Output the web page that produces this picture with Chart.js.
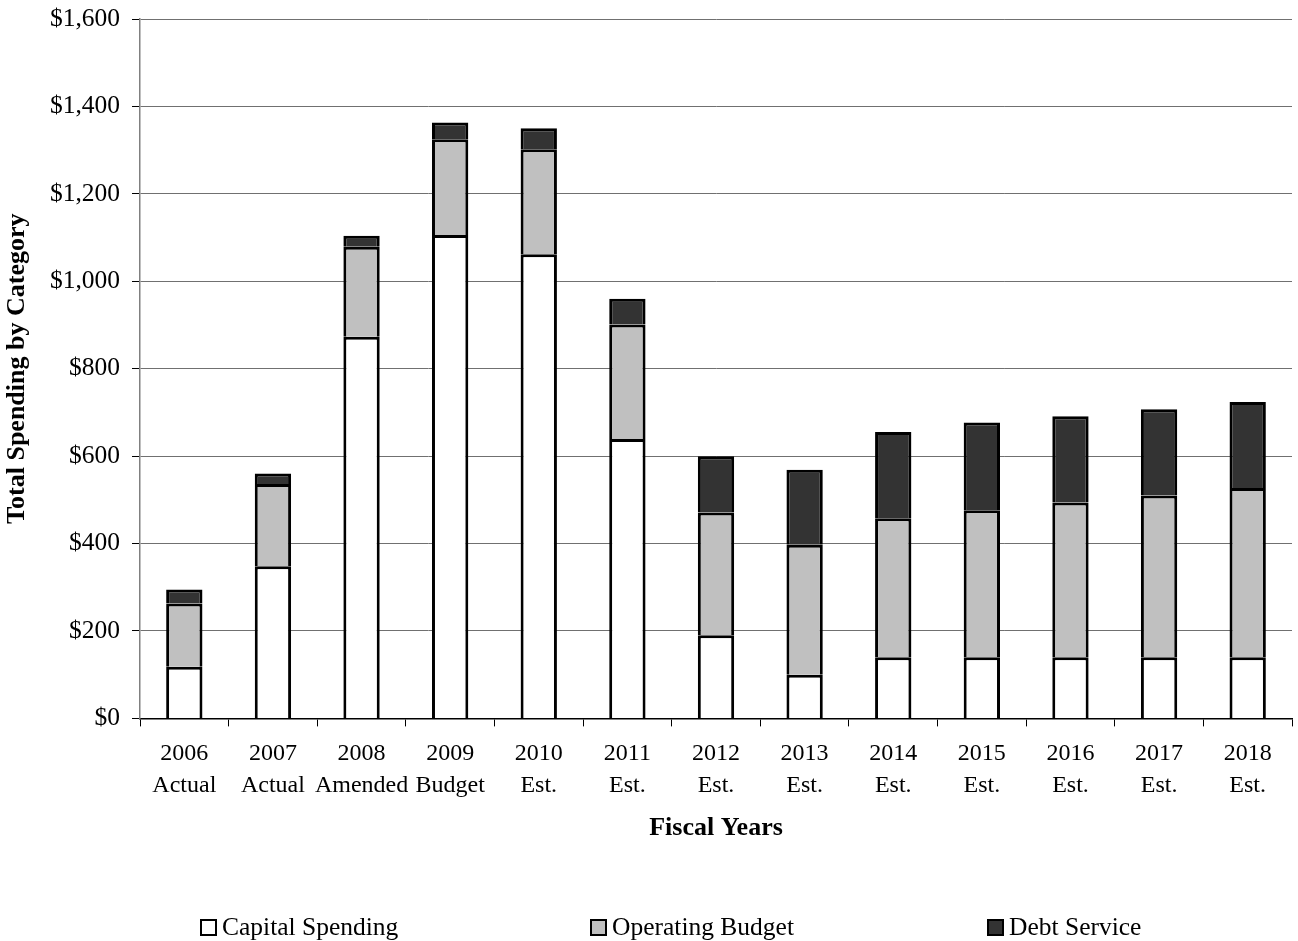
<!DOCTYPE html>
<html>
<head>
<meta charset="utf-8">
<script src="https://cdn.jsdelivr.net/npm/chart.js@4/dist/chart.umd.min.js"></script>
<style>
  html, body { margin: 0; padding: 0; background: #fff; }
  #wrap { position: relative; width: 1298px; height: 941px; }
  #spendingChart { position: absolute; left: 0; top: 0; }
  .legend-item {
    position: absolute; top: 912px; height: 30px;
    display: flex; align-items: center;
    font-family: "Liberation Serif", "Times New Roman", serif; font-size: 25.5px; color: #000;
  }
  .legend-item span.box {
    width: 13px; height: 13px; border: 2px solid #000; margin-right: 5px; box-sizing: content-box;
  }
</style>
</head>
<body>
<div id="wrap">
  <canvas id="spendingChart" width="1298" height="941"></canvas>
  <div id="legend"></div>
</div>
<script>
// Fiscal years (two-line labels)
const years = ['2006', '2007', '2008', '2009', '2010', '2011', '2012', '2013', '2014', '2015', '2016', '2017', '2018'];
const yearNotes = ['Actual', 'Actual', 'Amended', 'Budget', 'Est.', 'Est.', 'Est.', 'Est.', 'Est.', 'Est.', 'Est.', 'Est.', 'Est.'];

// Spending by category
const capitalSpending = [118, 348, 873, 1106, 1062, 639, 190, 100, 140, 140, 140, 140, 140];
const operatingBudget = [145, 188, 206, 219, 240, 262, 281, 297, 318, 336, 354, 370, 387];
const debtService = [32, 24, 25, 38, 48, 59, 129, 172, 197, 201, 197, 197, 197];

// Y axis range
const yMin = 0;
const yMax = 1600;
const yStep = 200;

const serif = '"Liberation Serif", "Times New Roman", serif';
const labels = years.map((y, i) => [y, yearNotes[i]]);

const datasets = [
  { label: 'Capital Spending', data: capitalSpending, backgroundColor: '#ffffff' },
  { label: 'Operating Budget', data: operatingBudget, backgroundColor: '#c0c0c0' },
  { label: 'Debt Service', data: debtService, backgroundColor: '#333333' }
].map(ds => Object.assign(ds, {
  borderColor: '#000000',
  borderWidth: 3,
  borderSkipped: 'start',
  barPercentage: 0.41,
  categoryPercentage: 1.0
}));

const ctx = document.getElementById('spendingChart').getContext('2d');
const chart = new Chart(ctx, {
  type: 'bar',
  data: { labels: labels, datasets: datasets },
  options: {
    responsive: false,
    animation: false,
    layout: { padding: { left: 2, right: 6, top: 19, bottom: 97 } },
    plugins: {
      legend: { display: false },
      tooltip: { enabled: false }
    },
    scales: {
      x: {
        stacked: true,
        grid: {
          display: true,
          drawOnChartArea: false,
          offset: true,
          tickLength: 8,
          color: '#000000',
          lineWidth: 1
        },
        border: { display: true, color: '#000000', width: 1.5 },
        ticks: {
          color: '#000000',
          padding: 11,
          font: { family: serif, size: 24, lineHeight: 1.333 },
          maxRotation: 0,
          autoSkip: false
        },
        title: {
          display: true,
          text: 'Fiscal Years',
          color: '#000000',
          padding: 0,
          font: { family: serif, size: 26, weight: 'bold', lineHeight: 1.2 }
        },
        afterFit: scale => { scale.height = 125.6; }
      },
      y: {
        stacked: true,
        min: yMin,
        max: yMax,
        grid: {
          color: '#707070',
          lineWidth: 1,
          tickLength: 8,
          tickColor: '#000000'
        },
        border: { display: true, color: '#808080', width: 1.5 },
        ticks: {
          stepSize: yStep,
          color: '#000000',
          padding: 12,
          font: { family: serif, size: 25.5 },
          callback: v => '$' + v.toLocaleString('en-US')
        },
        title: {
          display: true,
          text: 'Total Spending by Category',
          color: '#000000',
          padding: 0,
          font: { family: serif, size: 26, weight: 'bold', lineHeight: 1.2 }
        },
        afterFit: scale => {
          scale.width = 138;
          // keep the top label from pushing the plot area down
          scale.paddingTop = 0;
          scale.paddingBottom = 0;
        }
      }
    }
  }
});

// Legend below the plot, built from the datasets
const legendLeft = [200, 590, 987];
const legend = document.getElementById('legend');
chart.data.datasets.forEach((ds, i) => {
  const item = document.createElement('div');
  item.className = 'legend-item';
  item.style.left = legendLeft[i] + 'px';
  const box = document.createElement('span');
  box.className = 'box';
  box.style.background = ds.backgroundColor;
  item.appendChild(box);
  item.appendChild(document.createTextNode(ds.label));
  legend.appendChild(item);
});
</script>
</body>
</html>
